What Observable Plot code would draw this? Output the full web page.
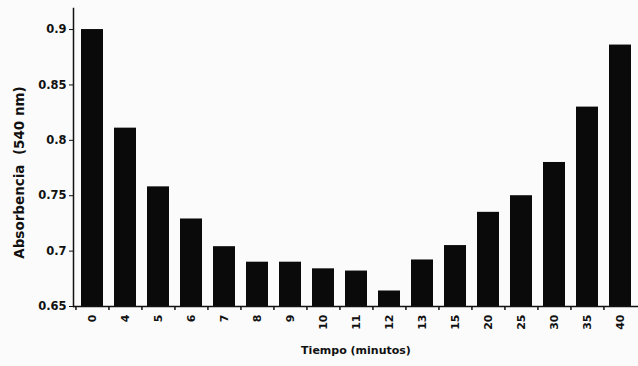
<!DOCTYPE html>
<html>
<head>
<meta charset="utf-8">
<script src="https://cdn.jsdelivr.net/npm/d3@7"></script>
<script src="https://cdn.jsdelivr.net/npm/@observablehq/plot@0.6"></script>
<style>
  html, body { margin: 0; padding: 0; background: #fbfbfb; }
  svg { display: block; }
</style>
</head>
<body>
<div id="chart"></div>
<script>
const times = ["0","4","5","6","7","8","9","10","11","12","13","15","20","25","30","35","40"];
const absorbance = [0.900,0.811,0.758,0.729,0.704,0.690,0.690,0.684,0.682,0.664,0.692,0.705,0.735,0.750,0.780,0.830,0.886];
const yTicks = [0.65,0.7,0.75,0.8,0.85,0.9];
const xTitle = "Tiempo (minutos)";
const yTitle = "Absorbencia  (540 nm)";

const data = times.map((t, i) => ({t, v: absorbance[i]}));

const W = 638, H = 366, mL = 73, mR = 0, mT = 8, mB = 60;
const pIn = 0.34, pOut = 0.2;
const yMin = 0.65, yMax = 0.919;
const step = (W - mL - mR) / (times.length - pIn + 2 * pOut);
const tickLen = 4 * (yMax - yMin) / (H - mT - mB);
const font = "'DejaVu Sans', sans-serif";

const chart = Plot.plot({
  width: W, height: H,
  marginLeft: mL, marginRight: mR, marginTop: mT, marginBottom: mB,
  style: {background: "#fbfbfb", fontFamily: font, fontWeight: "bold", color: "#111"},
  x: {domain: times, paddingInner: pIn, paddingOuter: pOut},
  y: {domain: [yMin, yMax]},
  marks: [
    Plot.barY(data, {x: "t", y1: yMin, y2: "v", fill: "#0a0a0a"}),
    Plot.ruleY([yMin], {stroke: "#111", strokeWidth: 1.5}),
    Plot.frame({anchor: "left", stroke: "#111", strokeWidth: 1.5}),
    Plot.ruleX(times, {x: d => d, dx: -step / 2, y1: yMin, y2: yMin - tickLen, stroke: "#111", strokeWidth: 1.5}),
    Plot.axisY({ticks: yTicks, tickFormat: d => String(d), tickSize: 4, tickPadding: 3, fontSize: 11.5, label: null}),
    Plot.axisX({tickRotate: -90, tickSize: 0, tickPadding: 8, fontSize: 11, label: null}),
    Plot.text([xTitle], {frameAnchor: "bottom", dy: 47, fontSize: 11, fontWeight: "bold"}),
    Plot.text([yTitle], {frameAnchor: "left", textAnchor: "middle", dx: -54, dy: 15, rotate: -90, fontSize: 13.5, fontWeight: "bold"})
  ]
});
document.getElementById("chart").appendChild(chart);
</script>
</body>
</html>
